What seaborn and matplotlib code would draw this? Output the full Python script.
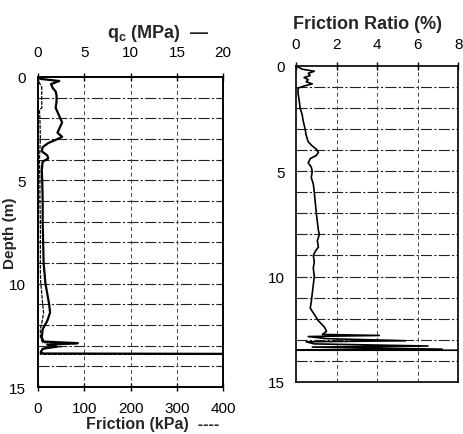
import matplotlib
matplotlib.use("Agg")
import matplotlib.pyplot as plt
import seaborn as sns
import numpy as np

# ---- data ----
qc_depth = [0.0, 0.1, 0.2, 0.35, 0.55, 0.7, 0.9, 1.2, 1.5, 1.8, 2.0, 2.2, 2.5, 2.7, 2.9,
            3.05, 3.2, 3.4, 3.6, 3.8, 3.95, 4.1, 4.5, 5.0, 6.0, 7.0, 8.0, 9.0, 9.5, 10.0,
            10.5, 11.0, 11.4, 11.8, 12.2, 12.6, 12.8, 12.88, 12.95, 13.05, 13.15, 13.3,
            13.38, 13.4]
qc_mpa = [0.0, 0.3, 2.3, 1.4, 1.6, 1.9, 2.0, 2.0, 1.9, 2.2, 2.4, 2.6, 2.3, 2.1, 2.6,
          1.9, 1.1, 0.5, 0.4, 1.0, 1.1, 0.5, 0.4, 0.45, 0.5, 0.5, 0.55, 0.6, 0.7, 0.8,
          1.0, 1.2, 1.3, 1.0, 0.5, 0.4, 0.6, 4.3, 1.0, 2.0, 0.5, 0.3,
          0.5, 25.0]

fs_depth = [0.0, 0.3, 0.5, 1.5, 1.6, 2.0, 3.0, 3.5, 4.0, 5.0, 6.0, 7.0, 8.0, 9.0, 9.5,
            10.0, 10.5, 11.0, 11.4, 11.8, 12.2, 12.6, 12.85, 12.9, 12.95, 13.05, 13.1,
            13.2, 13.3, 13.42, 13.42]
fs_kpa = [0.0, 3.0, 8.0, 8.0, 3.0, 4.0, 5.0, 4.0, 3.0, 4.0, 4.0, 5.0, 5.0, 5.0, 5.0,
          6.0, 8.0, 10.0, 12.0, 9.0, 5.0, 5.0, 10.0, 85.0, 20.0, 50.0, 15.0,
          10.0, 5.0, 5.0, 500.0]

rf_depth = [0.0, 0.15, 0.25, 0.35, 0.45, 0.55, 0.65, 0.75, 0.85, 0.95, 1.05, 1.3, 1.6,
            2.0, 2.3, 2.6, 3.0, 3.3, 3.6, 3.8, 3.95, 4.1, 4.25, 4.4, 4.6, 4.8, 5.0, 5.3,
            5.6, 6.0, 6.5, 7.0, 7.4, 7.8, 8.0, 8.3, 8.6, 8.8, 9.0, 9.3, 9.6, 10.0, 10.4,
            10.8, 11.2, 11.5, 11.8, 12.1, 12.4, 12.6, 12.75, 12.8, 12.85, 12.95, 13.05,
            13.1, 13.2, 13.3, 13.35, 13.45, 13.48, 13.5, 13.5]
rf_pct = [0.0, 0.3, 0.9, 0.6, 0.7, 0.4, 0.6, 0.5, 0.8, 0.4, 0.1, 0.1, 0.15,
          0.2, 0.3, 0.35, 0.45, 0.5, 0.6, 0.8, 1.0, 1.1, 1.0, 0.7, 0.6, 0.75, 0.8, 0.75,
          0.85, 0.9, 0.95, 1.0, 1.05, 1.1, 1.15, 1.05, 1.1, 0.95, 0.85, 0.9, 0.85, 0.9, 0.85,
          0.8, 0.75, 0.7, 0.9, 1.1, 1.4, 1.5, 1.3, 4.1, 0.6, 1.5, 5.4,
          0.5, 0.9, 6.5, 0.8, 7.2, 0.5, 0.0, 10.0]

qc_ticks = [0, 5, 10, 15, 20]
fs_ticks = [0, 100, 200, 300, 400]
rf_ticks = [0, 2, 4, 6, 8]
depth_ticks = [0, 5, 10, 15]
grid_depths = list(range(1, 15))

# ---- style ----
sns.set_style("white")
plt.rcParams['font.family'] = ['Liberation Sans', 'DejaVu Sans']
plt.rcParams['mathtext.fontset'] = 'custom'
plt.rcParams['mathtext.rm'] = 'Liberation Sans'
plt.rcParams['mathtext.bf'] = 'Liberation Sans:bold'

fig = plt.figure(figsize=(4.64, 4.35), dpi=100)
fig.patch.set_facecolor('white')

hgrid_style = dict(color='#222222', lw=0.8, ls=(0, (10, 2, 2, 2)), zorder=0)
vgrid_style = dict(color='#444444', lw=0.7, ls=(0, (4, 3)), zorder=0)


def style_axes(ax):
    for s in ax.spines.values():
        s.set_color('black')
        s.set_linewidth(1.2)
    ax.tick_params(direction='inout', length=6, width=1.0, colors='black',
                   labelsize=11)


# ---- left panel: friction (bottom) and qc (top) ----
ax_f = fig.add_axes([0.082, 0.108, 0.399, 0.713])
ax_q = ax_f.twiny()

for d in grid_depths:
    ax_f.axhline(d, **hgrid_style)
for v in fs_ticks[1:-1]:
    ax_f.axvline(v, **vgrid_style)

sns.lineplot(x=fs_kpa, y=fs_depth, orient='y', sort=False, estimator=None,
             ax=ax_f, color='black', lw=0.9, dashes=False, linestyle=(0, (3, 1)))
sns.lineplot(x=qc_mpa, y=qc_depth, orient='y', sort=False, estimator=None,
             ax=ax_q, color='black', lw=1.6)

ax_f.set_xlim(0, 400)
ax_q.set_xlim(0, 20)
ax_f.set_ylim(15, 0)
ax_f.set_xticks(fs_ticks)
ax_q.set_xticks(qc_ticks)
ax_f.set_yticks(depth_ticks)
style_axes(ax_f)
style_axes(ax_q)
ax_f.tick_params(axis='x', pad=7)
ax_f.tick_params(axis='y', pad=6)
ax_q.tick_params(axis='x', pad=10)

ax_f.set_xlabel("Friction (kPa)  ----", fontsize=11.5, fontweight='bold')
ax_f.xaxis.set_label_coords(0.62, -0.094)
ax_f.set_ylabel("Depth (m)", fontsize=11, fontweight='bold')
ax_f.yaxis.set_label_coords(-0.115, 0.5)
ax_q.set_xlabel(r"$\mathbf{q_c}$ (MPa)  —", fontsize=13, fontweight='bold')
ax_q.xaxis.set_label_coords(0.65, 1.13)

# ---- right panel: friction ratio ----
ax_r = fig.add_axes([0.638, 0.120, 0.350, 0.726])
for d in grid_depths:
    ax_r.axhline(d, **hgrid_style)
for v in rf_ticks[1:-1]:
    ax_r.axvline(v, **vgrid_style)

sns.lineplot(x=rf_pct, y=rf_depth, orient='y', sort=False, estimator=None,
             ax=ax_r, color='black', lw=1.2)
ax_r.set_xlim(0, 8)
ax_r.set_ylim(15, 0)
ax_r.set_xticks(rf_ticks)
ax_r.set_yticks(depth_ticks)
style_axes(ax_r)
ax_r.xaxis.tick_top()
ax_r.tick_params(axis='x', pad=8, bottom=False, labelbottom=False)
ax_r.tick_params(axis='y', pad=5)
ax_r.xaxis.set_label_position('top')
ax_r.set_xlabel("Friction Ratio (%)", fontsize=13, fontweight='bold')
ax_r.xaxis.set_label_coords(0.44, 1.12)
ax_r.set_ylabel("")

fig.savefig("out.png", dpi=100, facecolor='white')
